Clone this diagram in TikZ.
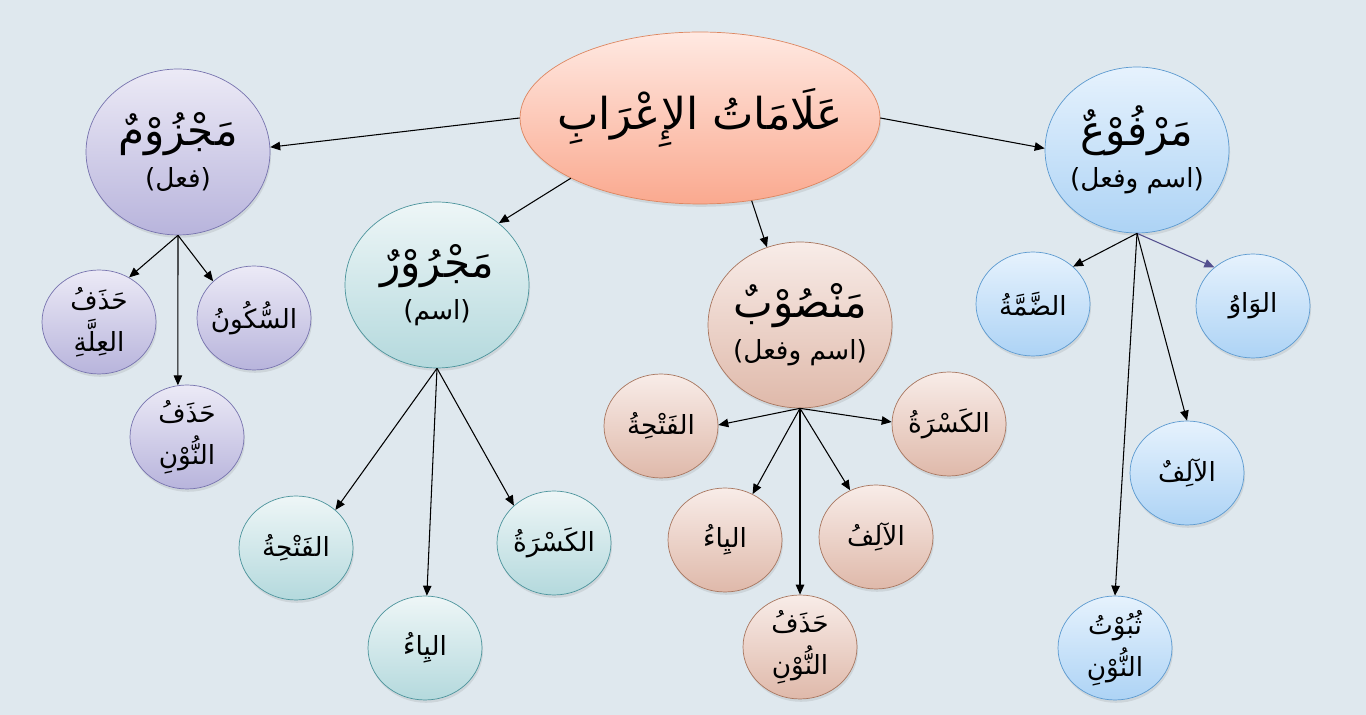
\documentclass[tikz,border=0pt]{standalone}
\usepackage{fontspec}
\usetikzlibrary{arrows.meta,shapes.geometric,shadows}
\TeXXeTstate=1
\newfontfamily\arabicfont[Script=Arabic]{DejaVu Sans}
\definecolor{bgPanel}{HTML}{DFE8EE}
\definecolor{hubTop}{HTML}{FFE9E2}
\definecolor{hubBot}{HTML}{FAA98F}
\definecolor{hubLine}{HTML}{DD8660}
\definecolor{jazmTop}{HTML}{ECEAF6}
\definecolor{jazmBot}{HTML}{B8B4DC}
\definecolor{jazmLine}{HTML}{7773AE}
\definecolor{jarrTop}{HTML}{EEF6F7}
\definecolor{jarrBot}{HTML}{B4D9DD}
\definecolor{jarrLine}{HTML}{4C949C}
\definecolor{nasbTop}{HTML}{F8ECE8}
\definecolor{nasbBot}{HTML}{DFB9AA}
\definecolor{nasbLine}{HTML}{A8765F}
\definecolor{rafTop}{HTML}{E6F2FD}
\definecolor{rafBot}{HTML}{ADD3F5}
\definecolor{rafLine}{HTML}{5C9AD0}
\definecolor{wawArrow}{HTML}{54508F}

\begin{document}
\begin{tikzpicture}[x=0.02cm,y=-0.02cm,
  hub/.style={ellipse,draw=hubLine,top color=hubTop,bottom color=hubBot,
    minimum width=7.2cm,minimum height=3.44cm,inner sep=-1cm,
    font=\arabicfont\fontsize{25}{30}\selectfont},
  cat/.style={ellipse,minimum width=3.68cm,minimum height=3.32cm,inner sep=-1cm,
    align=center,font=\arabicfont\fontsize{24}{24}\selectfont},
  leaf/.style={ellipse,minimum width=2.28cm,minimum height=2.08cm,inner sep=-1cm,
    align=center,font=\arabicfont\fontsize{15}{24}\selectfont},
  jazm/.style={draw=jazmLine,top color=jazmTop,bottom color=jazmBot},
  jarr/.style={draw=jarrLine,top color=jarrTop,bottom color=jarrBot},
  nasb/.style={draw=nasbLine,top color=nasbTop,bottom color=nasbBot},
  raf/.style={draw=rafLine,top color=rafTop,bottom color=rafBot},
  shade/.style={drop shadow={opacity=0.18,shadow xshift=0.6pt,shadow yshift=-1.6pt}},
  arr/.style={-{Triangle[length=2mm,width=1.7mm]},line width=0.6pt}
]
  \fill[bgPanel] (0,0) rectangle (1366,715);

  % centre and the four cases
  \node[hub,shade] (alamat) at (700,118) {\beginR عَلَامَاتُ الإِعْرَابِ\endR};
  \node[cat,jazm,shade] (majzum) at (178,152) {\beginR مَجْزُوْمٌ\endR\\{\fontsize{15}{18}\selectfont\beginR (فعل)\endR}};
  \node[cat,raf,shade] (marfu) at (1137,150) {\beginR مَرْفُوْعٌ\endR\\{\fontsize{15}{18}\selectfont\beginR (اسم وفعل)\endR}};
  \node[cat,jarr,shade] (majrur) at (437,285) {\beginR مَجْرُوْرٌ\endR\\{\fontsize{15}{18}\selectfont\beginR (اسم)\endR}};
  \node[cat,nasb,shade] (mansub) at (800,325) {\beginR مَنْصُوْبٌ\endR\\{\fontsize{15}{18}\selectfont\beginR (اسم وفعل)\endR}};

  % majzum
  \node[leaf,jazm,shade] (jzIlla) at (99,322) {\beginR حَذَفُ\endR\\\beginR العِلَّةِ\endR};
  \node[leaf,jazm,shade] (jzSukun) at (254,318) {\beginR السُّكُونُ\endR};
  \node[leaf,jazm,shade] (jzNun) at (187,437) {\beginR حَذَفُ\endR\\\beginR النُّوْنِ\endR};

  % majrur
  \node[leaf,jarr,shade] (jrFatha) at (296,548) {\beginR الفَتْحِةُ\endR};
  \node[leaf,jarr,shade] (jrKasra) at (554,543) {\beginR الكَسْرَةُ\endR};
  \node[leaf,jarr,shade] (jrYa) at (425,648) {\beginR اليِاءُ\endR};

  % mansub
  \node[leaf,nasb,shade] (nsFatha) at (661,426) {\beginR الفَتْحِةُ\endR};
  \node[leaf,nasb,shade] (nsKasra) at (949,424) {\beginR الكَسْرَةُ\endR};
  \node[leaf,nasb,shade] (nsYa) at (725,540) {\beginR اليِاءُ\endR};
  \node[leaf,nasb,shade] (nsAlif) at (876,537) {\beginR الآلِفُ\endR};
  \node[leaf,nasb,shade] (nsNun) at (800,647) {\beginR حَذَفُ\endR\\\beginR النُّوْنِ\endR};

  % marfu
  \node[leaf,raf,shade] (rfDamma) at (1033,304) {\beginR الضَّمَّةُ\endR};
  \node[leaf,raf,shade] (rfWaw) at (1253,306) {\beginR الوَاوُ\endR};
  \node[leaf,raf,shade] (rfAlif) at (1187,473) {\beginR الآلِفٌ\endR};
  \node[leaf,raf,shade] (rfNun) at (1115,648) {\beginR ثُبُوْتُ\endR\\\beginR النُّوْنِ\endR};

  \draw[arr] (alamat.180) -- (majzum.3);
  \draw[arr] (alamat.0) -- (marfu.179);
  \draw[arr] (alamat.205) -- (majrur.45);
  \draw[arr] (alamat.302) -- (mansub.113);

  \draw[arr] (majzum.south) -- (jzIlla.56);
  \draw[arr] (majzum.south) -- (jzSukun.138);
  \draw[arr] (majzum.south) -- (jzNun.100);

  \draw[arr] (majrur.south) -- (jrFatha.44);
  \draw[arr] (majrur.south) -- (jrKasra.137);
  \draw[arr] (majrur.south) -- (jrYa.88);

  \draw[arr] (mansub.south) -- (nsFatha.1);
  \draw[arr] (mansub.south) -- (nsKasra.178);
  \draw[arr] (mansub.south) -- (nsYa.59);
  \draw[arr] (mansub.south) -- (nsAlif.119);
  \draw[arr] (mansub.south) -- (nsNun.north);

  \draw[arr] (marfu.south) -- (rfDamma.43);
  \draw[arr,wawArrow] (marfu.south) -- (rfWaw.135);
  \draw[arr] (marfu.south) -- (rfAlif.north);
  \draw[arr] (marfu.south) -- (rfNun.north);
\end{tikzpicture}
\end{document}
